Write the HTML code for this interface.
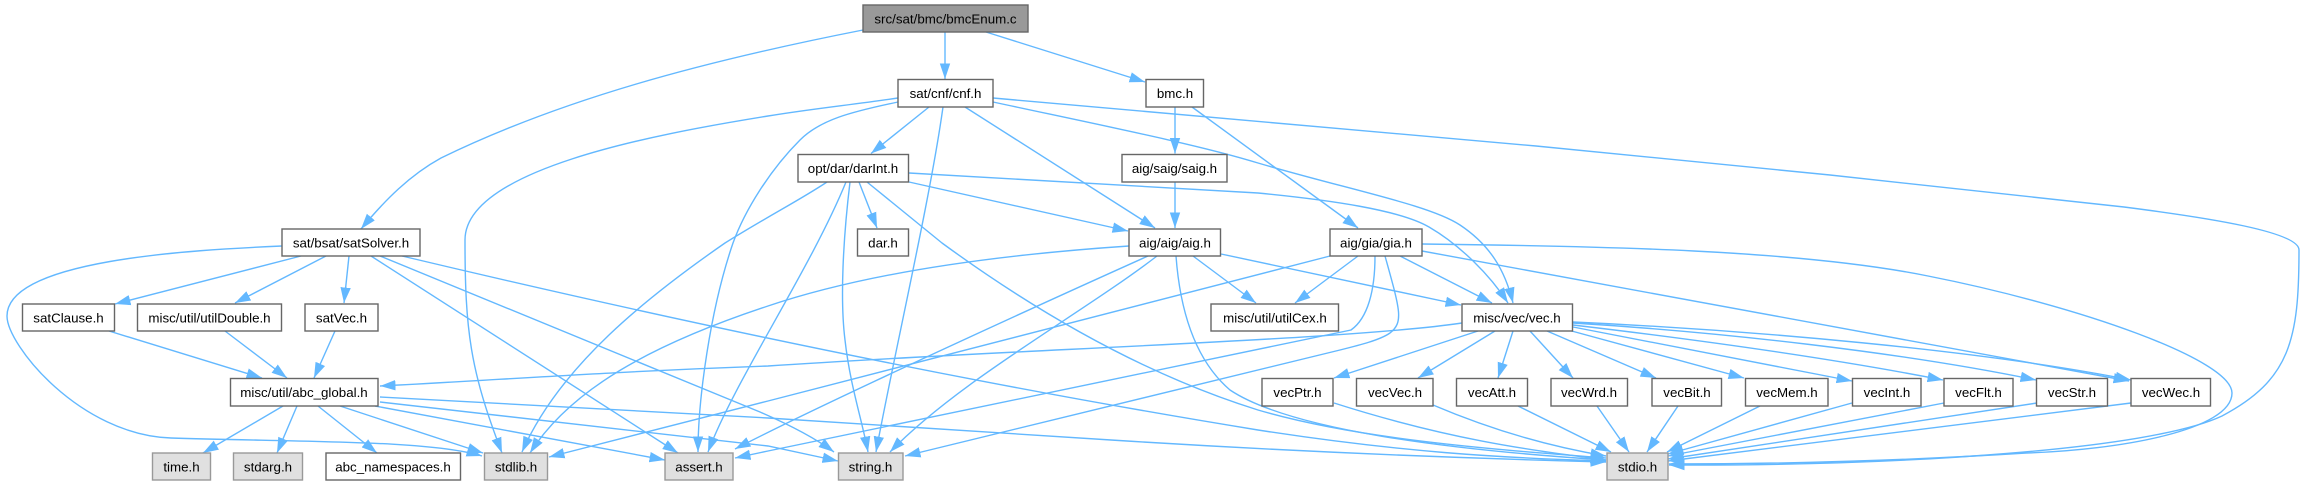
<!DOCTYPE html>
<html><head><meta charset="utf-8"><style>
html,body{margin:0;padding:0;background:#fff;width:2304px;height:485px;overflow:hidden}
svg{display:block}
.e path{fill:none;stroke:#63b8ff;stroke-width:1.4;marker-end:url(#a)}
.n rect{fill:#fff;stroke:#666;stroke-width:1.4}
.s rect{fill:#e0e0e0;stroke:#999}
.r rect{fill:#999;stroke:#666}
text{font-family:"Liberation Sans",Arial,sans-serif;font-size:13.33px;text-anchor:middle;fill:#000;transform:translateY(-.5px)}
</style></head><body>
<svg width="2304" height="485" viewBox="0 0 2304 485" xmlns="http://www.w3.org/2000/svg">
<defs><marker id="a" markerUnits="userSpaceOnUse" markerWidth="16" markerHeight="12" refX="15.5" refY="5.5" orient="auto"><path d="M0,0.3 L15.5,5.5 L0,10.7 Z" fill="#63b8ff"/></marker></defs>
<g class="e">
<path d="M863,30 C700,62 560,100 441,158 C410,175 385,200 361,229"/>
<path d="M945,32 L945,79"/>
<path d="M986,32 L1145,82"/>
<path d="M1175,107 L1175,153.5"/>
<path d="M1192,107 L1358,228"/>
<path d="M1175,182 L1175,228"/>
<path d="M929,107 L871,153.5"/>
<path d="M965,107 L1155,228"/>
<path d="M943,107 C930,200 895,350 876,452"/>
<path d="M898,98 C850,105 810,109 768,116 C650,135 465,170 465,240 C465,330 470,370 502,453"/>
<path d="M898,102 C850,112 820,120 800,140 C770,170 745,210 733,243 C710,310 698,400 698,452"/>
<path d="M993,98 L1536,146 L1830,175 L2124,207 C2210,218 2299,232 2299,250 C2299,340 2290,380 2222,416 C2150,450 1900,466 1669,465"/>
<path d="M993,102 C1100,125 1200,145 1258,163 C1350,190 1430,205 1460,225 C1490,245 1505,270 1513,303"/>
<path d="M1422,244 C1600,246 1800,250 1928,276 C2080,306 2232,360 2232,393 C2232,430 2120,450 2026,453 C1900,461 1780,464 1669,464"/>
<path d="M1422,251 L2129,381"/>
<path d="M1400,256 L1492,303"/>
<path d="M1358,256 L1295,303"/>
<path d="M1330,256 L768,401 L549,457"/>
<path d="M1375,256 C1375,290 1368,318 1351,330 L768,451 L735,458"/>
<path d="M1385,256 C1400,310 1404,322 1390,333 C1380,340 1360,345 1340,350 L905,456"/>
<path d="M1129,246 C980,256 860,275 768,306 C650,345 570,390 530,453"/>
<path d="M827,182 C800,200 770,215 725,243 C650,295 560,365 522,452"/>
<path d="M1148,256 C1050,300 830,400 735,449"/>
<path d="M1157,256 C1080,315 960,380 890,452"/>
<path d="M1176,256 C1180,310 1195,360 1230,390 C1290,430 1450,450 1606,460"/>
<path d="M1193,256 L1256,303"/>
<path d="M1221,254 L1461,305"/>
<path d="M859,182 L877,228"/>
<path d="M909,182 L1128,231"/>
<path d="M909,173 L1258,193 C1330,200 1400,210 1429,227 C1460,245 1490,275 1508,303"/>
<path d="M850,182 C843,240 840,300 845,340 C850,385 862,420 868,452"/>
<path d="M846,182 C810,270 735,380 708,452"/>
<path d="M867,182 L942,243 C1020,300 1130,370 1258,410 C1360,440 1500,450 1606,458"/>
<path d="M301,256 L115,304"/>
<path d="M326,256 L235,303"/>
<path d="M349,256 L344,303"/>
<path d="M282,246 C190,250 7,260 7,316 C7,345 80,435 171,438 C300,442 430,440 482,456"/>
<path d="M371,256 L678,453"/>
<path d="M380,256 L760,412 C790,425 815,438 834,452"/>
<path d="M402,256 C650,315 950,380 1258,430 C1400,452 1500,458 1606,461"/>
<path d="M109,331 L262,378"/>
<path d="M225,331 L287,378"/>
<path d="M335,331 L314,378"/>
<path d="M1462,323 C1350,340 1000,350 768,366 C600,372 500,380 380,386"/>
<path d="M340,406 L483,453"/>
<path d="M283,406 L203,453"/>
<path d="M297,406 L277,453"/>
<path d="M318,406 L377,453"/>
<path d="M375,406 L665,460"/>
<path d="M380,402 L768,446 L838,461"/>
<path d="M380,397 L768,418 L1111,440 C1300,452 1450,458 1606,462"/>
<path d="M1478,331 L1334,378"/>
<path d="M1495,331 L1418,378"/>
<path d="M1513,331 L1498,378"/>
<path d="M1530,331 L1573,378"/>
<path d="M1547,331 L1656,378"/>
<path d="M1568,330 L1744,378"/>
<path d="M1573,327 L1852,381"/>
<path d="M1573,325 C1700,340 1830,358 1943,380"/>
<path d="M1573,323 C1720,332 1900,352 2036,380"/>
<path d="M1573,322 C1750,330 1980,350 2131,380"/>
<path d="M1334,403 C1450,440 1530,450 1606,460"/>
<path d="M1433,405 C1480,425 1540,445 1606,456"/>
<path d="M1518,406 L1611,452"/>
<path d="M1597,406 L1629,452"/>
<path d="M1678,406 L1647,452"/>
<path d="M1760,406 L1667,452"/>
<path d="M1852,403 L1668,454"/>
<path d="M1944,403 L1668,456"/>
<path d="M2037,403 L1668,459"/>
<path d="M2131,403 L1668,461"/>
</g>
<g class="n">
<g class="r"><rect x="863" y="5" width="165" height="27"/><text x="945.5" y="24">src/sat/bmc/bmcEnum.c</text></g>
<rect x="898" y="79.5" width="95" height="27.5"/><text x="945.5" y="98.5">sat/cnf/cnf.h</text>
<rect x="1146" y="79.5" width="57.5" height="27.5"/><text x="1175" y="98.5">bmc.h</text>
<rect x="798" y="154.5" width="110.5" height="27.5"/><text x="853" y="173.5">opt/dar/darInt.h</text>
<rect x="1122" y="154.5" width="105" height="27.5"/><text x="1174.5" y="173.5">aig/saig/saig.h</text>
<rect x="282" y="229" width="138" height="27"/><text x="351" y="248">sat/bsat/satSolver.h</text>
<rect x="857.5" y="229" width="51" height="27"/><text x="883" y="248">dar.h</text>
<rect x="1129" y="229" width="91.5" height="27"/><text x="1175" y="248">aig/aig/aig.h</text>
<rect x="1330" y="229" width="92" height="27"/><text x="1376" y="248">aig/gia/gia.h</text>
<rect x="22.5" y="304" width="92" height="27"/><text x="68.5" y="323">satClause.h</text>
<rect x="137.5" y="304" width="144" height="27"/><text x="209.5" y="323">misc/util/utilDouble.h</text>
<rect x="305" y="304" width="73" height="27"/><text x="341.5" y="323">satVec.h</text>
<rect x="1211" y="304" width="127.5" height="27"/><text x="1275" y="323">misc/util/utilCex.h</text>
<rect x="1462" y="304" width="110.5" height="27"/><text x="1517" y="323">misc/vec/vec.h</text>
<rect x="230.5" y="378.5" width="147.5" height="27.5"/><text x="304" y="397.5">misc/util/abc_global.h</text>
<rect x="1262" y="378.5" width="71" height="27.5"/><text x="1297.5" y="397.5">vecPtr.h</text>
<rect x="1356.5" y="378.5" width="76.5" height="27.5"/><text x="1395" y="397.5">vecVec.h</text>
<rect x="1456.5" y="378.5" width="71" height="27.5"/><text x="1492" y="397.5">vecAtt.h</text>
<rect x="1551" y="378.5" width="76.5" height="27.5"/><text x="1589" y="397.5">vecWrd.h</text>
<rect x="1652" y="378.5" width="69.5" height="27.5"/><text x="1687" y="397.5">vecBit.h</text>
<rect x="1745.5" y="378.5" width="82.5" height="27.5"/><text x="1787" y="397.5">vecMem.h</text>
<rect x="1852.5" y="378.5" width="68.5" height="27.5"/><text x="1887" y="397.5">vecInt.h</text>
<rect x="1944" y="378.5" width="69" height="27.5"/><text x="1978.5" y="397.5">vecFlt.h</text>
<rect x="2036.5" y="378.5" width="71" height="27.5"/><text x="2072" y="397.5">vecStr.h</text>
<rect x="2131" y="378.5" width="79.5" height="27.5"/><text x="2171" y="397.5">vecWec.h</text>
<g class="s"><rect x="152.5" y="453" width="58" height="27"/><text x="181.5" y="472">time.h</text></g>
<g class="s"><rect x="233.5" y="453" width="69" height="27"/><text x="268" y="472">stdarg.h</text></g>
<rect x="326" y="453" width="134.5" height="27"/><text x="393" y="472">abc_namespaces.h</text>
<g class="s"><rect x="484.5" y="453" width="63" height="27"/><text x="516" y="472">stdlib.h</text></g>
<g class="s"><rect x="665" y="453" width="68" height="27"/><text x="699" y="472">assert.h</text></g>
<g class="s"><rect x="838.5" y="453" width="64.5" height="27"/><text x="870.5" y="472">string.h</text></g>
<g class="s"><rect x="1607" y="453" width="61" height="27"/><text x="1637.5" y="472">stdio.h</text></g>
</g>
</svg>
</body></html>
